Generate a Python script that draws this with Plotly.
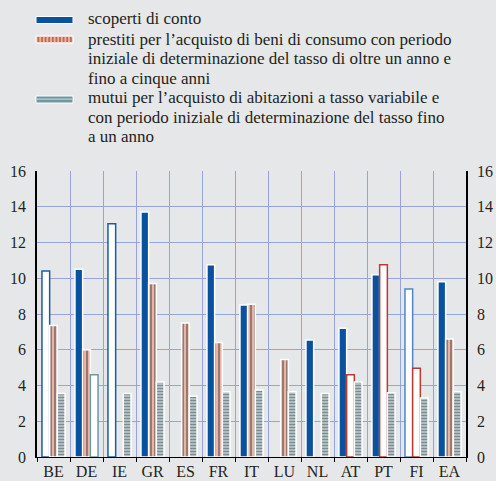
import plotly.graph_objects as go

# -------------------------------
# DATA
# -------------------------------
countries = ["BE", "DE", "IE", "GR", "ES", "FR", "IT", "LU", "NL", "AT", "PT", "FI", "EA"]

scoperti = [10.4, 10.5, 13.05, 13.7, None, 10.75, 8.5, None, 6.55, 7.2, 10.2, 9.4, 9.8]
prestiti = [7.35, 6.0, None, 9.7, 7.5, 6.4, 8.55, 5.45, None, 4.6, 10.75, 4.97, 6.6]
mutui = [3.55, 4.6, 3.55, 4.2, 3.4, 3.65, 3.75, 3.65, 3.55, 4.2, 3.6, 3.3, 3.65]

# hollow bars in the original (white fill, coloured outline)
scoperti_hollow = ["BE", "IE", "FI"]
prestiti_hollow = ["AT", "PT", "FI"]
mutui_hollow = ["DE"]

legend_names = [
    "scoperti di conto",
    "prestiti per l’acquisto di beni di consumo con periodo<br>"
    "iniziale di determinazione del tasso di oltre un anno e<br>"
    "fino a cinque anni",
    "mutui per l’acquisto di abitazioni a tasso variabile e<br>"
    "con periodo iniziale di determinazione del tasso fino<br>"
    "a un anno",
]

y_ticks = [0, 2, 4, 6, 8, 10, 12, 14, 16]

# -------------------------------
# STYLE
# -------------------------------
BG = "#e6e7e9"
GRID = "#97a3da"
BLUE = "#0a519f"
SALMON_LIGHT = "#e9b3a6"
SALMON_DARK = "#bf6656"
TEAL_LIGHT = "#bccfd3"
TEAL_DARK = "#6f98a1"
TEXT = "#231f20"
FONT = "Liberation Serif, Tinos, 'Times New Roman', serif"

W, H = 496, 481
ML, MR, MT, MB = 37, 30, 171, 24
PW, PH = W - ML - MR, H - MT - MB


def px_x(px):
    return (px - ML) / PW


def px_y(py):
    return (H - MB - py) / PH


def hollow_list(hollow, normal, special):
    return [special if c in hollow else normal for c in countries]


fig = go.Figure()

# scoperti di conto
fig.add_trace(go.Bar(
    x=countries, y=scoperti, name="scoperti",
    marker=dict(
        color=hollow_list(scoperti_hollow, BLUE, "white"),
        line=dict(color=[("#4f86c6" if c == "FI" else "#1b5aa6") if c in scoperti_hollow else "white"
                         for c in countries], width=1.5),
    ),
    showlegend=False, hoverinfo="x+y",
))

# prestiti
fig.add_trace(go.Bar(
    x=countries, y=prestiti, name="prestiti",
    marker=dict(
        color=hollow_list(prestiti_hollow, SALMON_LIGHT, "white"),
        line=dict(color=hollow_list(prestiti_hollow, "white", "#b83a32"), width=1.5),
        pattern=dict(
            shape=hollow_list(prestiti_hollow, "|", ""),
            fgcolor=SALMON_DARK, size=4, solidity=0.5, fillmode="overlay",
        ),
    ),
    showlegend=False, hoverinfo="x+y",
))

# mutui
fig.add_trace(go.Bar(
    x=countries, y=mutui, name="mutui",
    marker=dict(
        color=hollow_list(mutui_hollow, TEAL_LIGHT, "white"),
        line=dict(color=hollow_list(mutui_hollow, "white", "#6c9aa3"), width=1.5),
        pattern=dict(
            shape=hollow_list(mutui_hollow, "-", ""),
            fgcolor=TEAL_DARK, size=3, solidity=0.5, fillmode="overlay",
        ),
    ),
    showlegend=False, hoverinfo="x+y",
))

# invisible trace to carry the right-hand axis
fig.add_trace(go.Scatter(x=countries, y=mutui, yaxis="y2", mode="markers",
                         marker=dict(opacity=0), showlegend=False, hoverinfo="skip"))

# -------------------------------
# LEGEND (drawn by hand: wide swatches like the original)
# -------------------------------
shapes = []
sw_x0, sw_x1 = 36, 73

# swatch 1: solid blue
shapes.append(dict(type="rect", xref="paper", yref="paper",
                   x0=px_x(sw_x0), x1=px_x(sw_x1), y0=px_y(23.5), y1=px_y(16.5),
                   fillcolor=BLUE, line=dict(color="white", width=1)))
# swatch 2: vertical stripes
shapes.append(dict(type="rect", xref="paper", yref="paper",
                   x0=px_x(sw_x0), x1=px_x(sw_x1), y0=px_y(43), y1=px_y(36),
                   fillcolor=SALMON_LIGHT, line=dict(color="white", width=1)))
sx = sw_x0 + 1.5
while sx < sw_x1 - 2:
    shapes.append(dict(type="rect", xref="paper", yref="paper",
                       x0=px_x(sx), x1=px_x(sx + 1.8), y0=px_y(42), y1=px_y(37),
                       fillcolor=SALMON_DARK, line=dict(width=0)))
    sx += 3.6
# swatch 3: horizontal stripes
shapes.append(dict(type="rect", xref="paper", yref="paper",
                   x0=px_x(sw_x0), x1=px_x(sw_x1), y0=px_y(103), y1=px_y(96),
                   fillcolor=TEAL_DARK, line=dict(color="white", width=1)))
shapes.append(dict(type="rect", xref="paper", yref="paper",
                   x0=px_x(sw_x0 + 1), x1=px_x(sw_x1 - 1), y0=px_y(99.8), y1=px_y(98.6),
                   fillcolor=TEAL_LIGHT, line=dict(width=0)))

annotations = []
legend_lines = []
for name in legend_names:
    legend_lines.extend(name.split("<br>"))
line_centres = [18.5, 39.0, 58.8, 78.3, 97.5, 117.0, 136.5]
for txt, cy in zip(legend_lines, line_centres):
    annotations.append(dict(
        xref="paper", yref="paper", x=px_x(88), y=px_y(cy),
        xanchor="left", yanchor="middle", text=txt, showarrow=False,
        borderpad=0, borderwidth=0,
        font=dict(family=FONT, size=17, color=TEXT),
    ))

fig.update_layout(
    template="none",
    width=W, height=H,
    margin=dict(l=ML, r=MR, t=MT, b=MB, pad=0),
    paper_bgcolor=BG, plot_bgcolor=BG,
    barmode="group", bargap=0.3, bargroupgap=0.0,
    font=dict(family=FONT, size=16, color=TEXT),
    shapes=shapes, annotations=annotations,
    xaxis=dict(
        type="category", categoryorder="array", categoryarray=countries,
        tickson="boundaries", showgrid=True, gridcolor=GRID, gridwidth=1,
        showline=True, linecolor="black", linewidth=1,
        ticks="outside", ticklen=4, tickcolor="black",
        tickfont=dict(family=FONT, size=16, color=TEXT),
        range=[-0.5, len(countries) - 0.5], fixedrange=True, automargin=False,
    ),
    yaxis=dict(
        range=[0, 16], tickvals=y_ticks, showgrid=True, gridcolor=GRID, gridwidth=1.2,
        showline=True, linecolor="black", linewidth=1.5, zeroline=False,
        ticks="", tickfont=dict(family=FONT, size=16, color=TEXT),
        ticklabelstandoff=6, automargin=False,
    ),
    yaxis2=dict(
        range=[0, 16], tickvals=y_ticks, overlaying="y", side="right",
        showgrid=False, showline=True, linecolor="black", linewidth=1.5,
        zeroline=False, ticks="", tickfont=dict(family=FONT, size=16, color=TEXT),
        ticklabelstandoff=6, automargin=False,
    ),
)

fig.write_html("out.html", config={"displayModeBar": False},
               post_script="document.body.style.margin='0';")
